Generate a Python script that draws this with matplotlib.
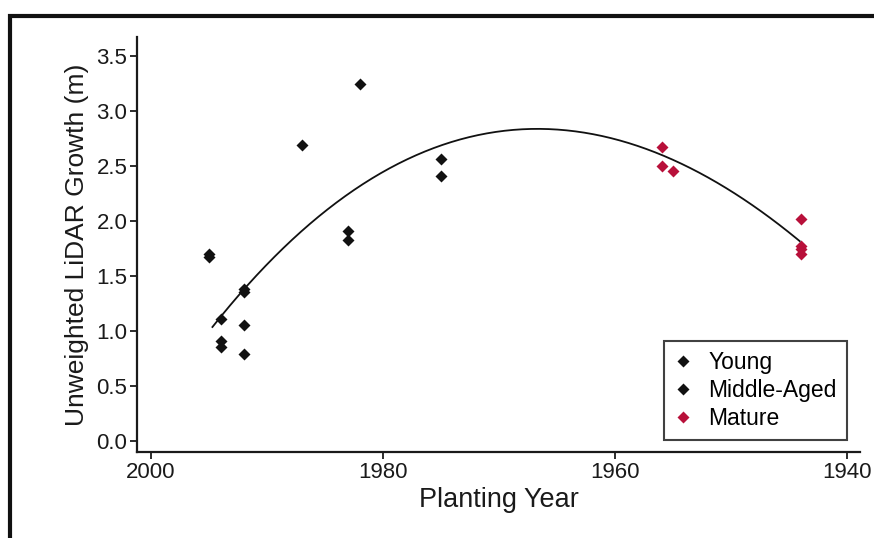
import numpy as np
import matplotlib
matplotlib.use("Agg")
import matplotlib.pyplot as plt
from matplotlib.patches import Rectangle

plt.rcParams['font.family'] = ['Liberation Sans', 'DejaVu Sans']

# Data
young_year = [1995, 1995, 1994, 1994, 1994, 1992, 1992, 1992, 1992]
young_growth = [1.70, 1.67, 1.11, 0.91, 0.85, 1.38, 1.35, 1.05, 0.79]

middle_year = [1987, 1982, 1983, 1983, 1975, 1975]
middle_growth = [2.69, 3.24, 1.91, 1.83, 2.56, 2.41]

mature_year = [1956, 1956, 1955, 1944, 1944, 1944, 1944]
mature_growth = [2.67, 2.50, 2.45, 2.02, 1.77, 1.74, 1.70]

# fitted trend curve
curve_year = [1994.7, 1991.2, 1987.4, 1982.6, 1976.8, 1971.1, 1968.2, 1963.9, 1959.6, 1953.8, 1948.1, 1944.1]
curve_growth = [1.03, 1.46, 1.89, 2.28, 2.62, 2.78, 2.81, 2.81, 2.74, 2.52, 2.13, 1.81]

x_ticks = [2000, 1980, 1960, 1940]
y_ticks = [0.0, 0.5, 1.0, 1.5, 2.0, 2.5, 3.0, 3.5]

W, H = 874, 538
fig = plt.figure(figsize=(W / 100, H / 100), dpi=100)
ax = fig.add_axes([137 / W, 1 - 452 / H, (860 - 137) / W, (452 - 37) / H])

black = '#111111'
red = '#b8103a'
ms = 6.5
ax.plot(young_year, young_growth, 'D', color=black, ms=ms, mec='none', label='Young')
ax.plot(middle_year, middle_growth, 'D', color=black, ms=ms, mec='none', label='Middle-Aged')
ax.plot(mature_year, mature_growth, 'D', color=red, ms=ms, mec='none', label='Mature')

coef = np.polyfit(curve_year, curve_growth, 3)
xs = np.linspace(curve_year[0], curve_year[-1], 200)
ax.plot(xs, np.polyval(coef, xs), color=black, lw=1.3)

ax.set_xlim(2001.2, 1938.9)
ax.set_ylim(-0.1, 3.67)
ax.set_xticks(x_ticks)
ax.set_xticklabels([str(v) for v in x_ticks])
ax.set_yticks(y_ticks)
ax.set_yticklabels([f'{v:.1f}' for v in y_ticks])

for s in ['top', 'right']:
    ax.spines[s].set_visible(False)
for s in ['left', 'bottom']:
    ax.spines[s].set_linewidth(1.6)
    ax.spines[s].set_color('#1a1a1a')
ax.tick_params(axis='both', direction='out', length=5, width=1.3, labelsize=16, colors='#1a1a1a', pad=2)

ax.set_xlabel('Planting Year', fontsize=19.5, color='#1a1a1a', labelpad=3)
ax.set_ylabel('Unweighted LiDAR Growth (m)', fontsize=19, color='#1a1a1a', labelpad=5)

leg = ax.legend(loc='lower right', bbox_to_anchor=(0.982, 0.029), borderaxespad=0,
                fontsize=16.5, frameon=True, fancybox=False, handlelength=0.8,
                handletextpad=0.7, labelspacing=0.2, borderpad=0.45)
leg.get_frame().set_edgecolor('#111111')
leg.get_frame().set_linewidth(1.5)

# outer frame of the figure
fig.patches.append(Rectangle((10 / W, -0.1), 1.2, 1.1 - 16 / H, transform=fig.transFigure,
                             fill=False, edgecolor='#111111', linewidth=3))

fig.savefig('out.png', dpi=100)
